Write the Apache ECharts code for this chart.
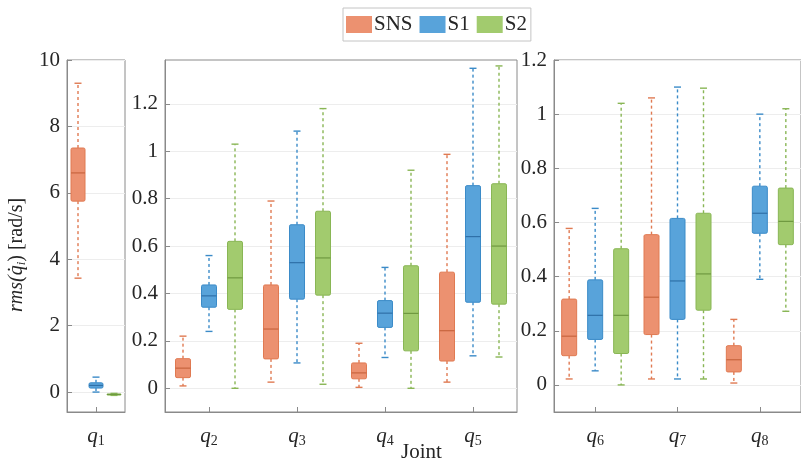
<!DOCTYPE html>
<html>
<head>
<meta charset="utf-8">
<script src="https://cdn.jsdelivr.net/npm/echarts@6/dist/echarts.min.js"></script>
<style>
html, body { margin: 0; padding: 0; background: #fff; }
#chart { width: 801px; height: 462px; }
</style>
</head>
<body>
<div id="chart"></div>
<script>
// groups and joints
const groups = ['SNS', 'S1', 'S2'];
const joints1 = ['q1'];
const joints2 = ['q2', 'q3', 'q4', 'q5'];
const joints3 = ['q6', 'q7', 'q8'];

// box stats per joint: [low whisker, q1, median, q3, high whisker]
const sns1 = [[3.43, 5.75, 6.6, 7.35, 9.3]];
const s1_1 = [[0.0, 0.12, 0.2, 0.28, 0.45]];
const s2_1 = [[-0.1, -0.08, -0.07, -0.06, -0.04]];

const sns2 = [[0.01, 0.045, 0.085, 0.125, 0.22], [0.026, 0.124, 0.25, 0.436, 0.79], [0.004, 0.04, 0.065, 0.107, 0.19], [0.026, 0.115, 0.243, 0.49, 0.987]];
const s1_2 = [[0.24, 0.342, 0.39, 0.436, 0.56], [0.107, 0.376, 0.53, 0.69, 1.085], [0.13, 0.257, 0.317, 0.37, 0.51], [0.137, 0.363, 0.64, 0.855, 1.35]];
const s2_2 = [[0.0, 0.333, 0.466, 0.62, 1.03], [0.017, 0.393, 0.55, 0.747, 1.18], [0.0, 0.158, 0.316, 0.517, 0.92], [0.132, 0.355, 0.6, 0.863, 1.36]];

const sns3 = [[0.022, 0.108, 0.18, 0.317, 0.578], [0.022, 0.186, 0.324, 0.555, 1.06], [0.007, 0.048, 0.093, 0.145, 0.242]];
const s1_3 = [[0.052, 0.168, 0.257, 0.388, 0.652], [0.022, 0.242, 0.384, 0.615, 1.10], [0.39, 0.56, 0.634, 0.734, 1.0]];
const s2_3 = [[0.0, 0.116, 0.257, 0.503, 1.04], [0.022, 0.276, 0.41, 0.634, 1.096], [0.272, 0.518, 0.604, 0.727, 1.02]];

// tick labels
const yTicks1 = [0, 2, 4, 6, 8, 10];
const yTicks2 = [0, 0.2, 0.4, 0.6, 0.8, 1, 1.2];
const yTicks3 = [0, 0.2, 0.4, 0.6, 0.8, 1, 1.2];

const FONT = 'Liberation Serif';
const fill = ['#ec9170', '#58a3da', '#a2cb6e'];
const edge = ['#e07a52', '#3b8bc8', '#89b655'];
const med = ['#c8653f', '#2f70a8', '#6f9940'];

function boxRenderer(gi, offset, boxW) {
  return function (params, api) {
    const x = api.value(0);
    const pLow = api.coord([x, api.value(1)]);
    const pQ1 = api.coord([x, api.value(2)]);
    const pMed = api.coord([x, api.value(3)]);
    const pQ3 = api.coord([x, api.value(4)]);
    const pHigh = api.coord([x, api.value(5)]);
    const cx = pLow[0] + offset;
    const hw = boxW / 2;
    const cap = 3.5;
    const dash = { stroke: edge[gi], lineWidth: 1.4, lineDash: [3, 3] };
    const solid = { stroke: edge[gi], lineWidth: 1.4 };
    return {
      type: 'group',
      children: [
        { type: 'line', shape: { x1: cx, y1: pQ3[1], x2: cx, y2: pHigh[1] }, style: dash },
        { type: 'line', shape: { x1: cx, y1: pQ1[1], x2: cx, y2: pLow[1] }, style: dash },
        { type: 'line', shape: { x1: cx - cap, y1: pHigh[1], x2: cx + cap, y2: pHigh[1] }, style: solid },
        { type: 'line', shape: { x1: cx - cap, y1: pLow[1], x2: cx + cap, y2: pLow[1] }, style: solid },
        {
          type: 'rect',
          shape: { x: cx - hw, y: pQ3[1], width: boxW, height: Math.max(pQ1[1] - pQ3[1], 1), r: 1.5 },
          style: { fill: fill[gi], stroke: edge[gi], lineWidth: 1 }
        },
        { type: 'line', shape: { x1: cx - hw, y1: pMed[1], x2: cx + hw, y2: pMed[1] }, style: { stroke: med[gi], lineWidth: 1.2 } }
      ]
    };
  };
}

const panels = [
  { joints: joints1, data: [sns1, s1_1, s2_1], ticks: yTicks1, min: -0.6, max: 10, offset: 18, boxW: 14 },
  { joints: joints2, data: [sns2, s1_2, s2_2], ticks: yTicks2, min: -0.1, max: 1.385, offset: 26, boxW: 15 },
  { joints: joints3, data: [sns3, s1_3, s2_3], ticks: yTicks3, min: -0.1, max: 1.2, offset: 26, boxW: 15 }
];

const grids = [
  { left: 67, top: 60, width: 58, height: 352 },
  { left: 165, top: 60, width: 352, height: 352 },
  { left: 554, top: 60, width: 261, height: 352 }
];

const axisLineStyle = { color: '#8a8a8a', width: 1 };
const gridLine = { show: true, lineStyle: { color: '#ededed', width: 1 } };

const xAxes = [], yAxes = [], series = [];
panels.forEach((p, pi) => {
  const pos = p.joints.map((j, i) => i + 1);
  xAxes.push({
    type: 'value', gridIndex: pi, min: 0.5, max: p.joints.length + 0.5,
    axisLine: { show: true, onZero: false, lineStyle: axisLineStyle },
    axisTick: { show: true, inside: true, length: 5, lineStyle: axisLineStyle, customValues: pos },
    splitLine: { show: false },
    axisLabel: {
      customValues: pos, margin: 12, color: '#262626', fontFamily: FONT,
      formatter: (v) => '{q|q}{s|' + p.joints[Math.round(v) - 1].slice(1) + '}',
      rich: {
        q: { fontFamily: FONT, fontStyle: 'italic', fontSize: 21, color: '#262626' },
        s: { fontFamily: FONT, fontSize: 14, color: '#262626', padding: [10, 0, 0, 0] }
      }
    }
  });
  yAxes.push({
    type: 'value', gridIndex: pi, min: p.min, max: p.max,
    axisLine: { show: true, onZero: false, lineStyle: axisLineStyle },
    axisTick: { show: true, inside: true, length: 5, lineStyle: axisLineStyle, customValues: p.ticks },
    splitLine: gridLine,
    axisLabel: {
      customValues: p.ticks, margin: 7, color: '#262626',
      fontFamily: FONT, fontSize: 21
    }
  });
  p.data.forEach((d, gi) => {
    series.push({
      type: 'custom', name: groups[gi], xAxisIndex: pi, yAxisIndex: pi,
      itemStyle: { color: fill[gi] },
      encode: { x: 0, y: [1, 2, 3, 4, 5] },
      renderItem: boxRenderer(gi, (gi - 1) * p.offset, p.boxW),
      data: d.map((row, i) => [pos[i]].concat(row))
    });
  });
});

const chart = echarts.init(document.getElementById('chart'), null, { renderer: 'canvas' });
chart.setOption({
  animation: false,
  backgroundColor: '#fff',
  textStyle: { fontFamily: FONT },
  grid: grids.map(g => Object.assign({ show: true, borderColor: '#8a8a8a', borderWidth: 1, containLabel: false }, g)),
  legend: {
    left: 343, top: 8,
    padding: [6, 4, 6, 3],
    borderColor: '#c4c4c4', borderWidth: 1,
    itemWidth: 26, itemHeight: 17, itemGap: 7,
    icon: 'rect',
    textStyle: { fontFamily: FONT, fontSize: 21, color: '#262626', padding: [0, 0, 0, -3] },
    data: groups.map((g, i) => ({ name: g, itemStyle: { color: fill[i] } }))
  },
  xAxis: xAxes,
  yAxis: yAxes,
  series: series,
  graphic: [
    {
      type: 'text', left: 401, top: 442,
      style: { text: 'Joint', fontFamily: FONT, fontSize: 21, fill: '#262626' }
    },
    {
      type: 'text', x: 5, y: 312, rotation: Math.PI / 2,
      style: {
        text: '{i|rms(q\u0307}{s|i}{n|) [rad/s]}',
        rich: {
          i: { fontFamily: FONT, fontStyle: 'italic', fontSize: 20, fill: '#262626' },
          s: { fontFamily: FONT, fontStyle: 'italic', fontSize: 13, fill: '#262626', padding: [10, 0, 0, 0] },
          n: { fontFamily: FONT, fontSize: 20, fill: '#262626' }
        }
      }
    }
  ]
});
</script>
</body>
</html>
